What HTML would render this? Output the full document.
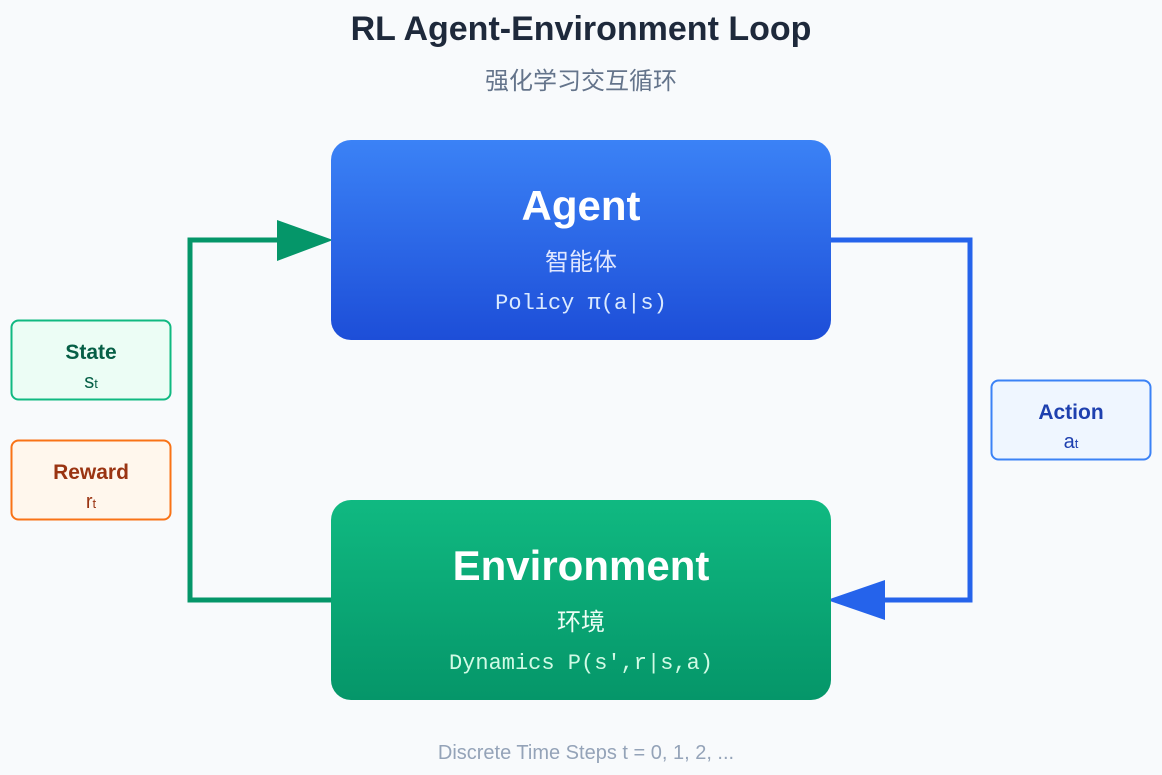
<!DOCTYPE html>
<html><head><meta charset="utf-8"><style>
html,body{margin:0;padding:0;background:#f8fafc;}
svg{display:block}
.s{font-family:"Liberation Sans","Noto Sans CJK SC",sans-serif}
.m{font-family:"Liberation Mono","DejaVu Sans Mono",monospace}
</style></head><body>
<svg width="1162" height="775" viewBox="0 0 1162 775" xmlns="http://www.w3.org/2000/svg">
<defs>
<linearGradient id="gb" x1="0" y1="0" x2="0" y2="1"><stop offset="0" stop-color="#3b82f6"/><stop offset="1" stop-color="#1d4ed8"/></linearGradient>
<linearGradient id="gg" x1="0" y1="0" x2="0" y2="1"><stop offset="0" stop-color="#10b981"/><stop offset="1" stop-color="#059669"/></linearGradient>
</defs>
<rect width="1162" height="775" fill="#f8fafc"/>
<text x="581" y="40" text-anchor="middle" class="s" font-size="34" font-weight="bold" fill="#1e293b">RL Agent-Environment Loop</text>
<text x="581" y="89" text-anchor="middle" class="s" font-size="24" fill="#64748b">强化学习交互循环</text>

<polyline points="331,600 190,600 190,240 285,240" fill="none" stroke="#059669" stroke-width="5"/>
<polygon points="277,220 333,240 277,261" fill="#059669"/>
<polyline points="831,240 970,240 970,600 880,600" fill="none" stroke="#2563eb" stroke-width="5"/>
<polygon points="885,580 827,600 885,620" fill="#2563eb"/>

<rect x="331" y="140" width="500" height="200" rx="20" fill="url(#gb)"/>
<text x="581" y="220" text-anchor="middle" class="s" font-size="42" font-weight="bold" fill="#fff">Agent</text>
<text x="581" y="270" text-anchor="middle" class="s" font-size="24" fill="#e0e7ff">智能体</text>
<text x="581" y="309" text-anchor="middle" class="m" font-size="22" fill="#dbeafe">Policy π(a|s)</text>

<rect x="331" y="500" width="500" height="200" rx="20" fill="url(#gg)"/>
<text x="581" y="580" text-anchor="middle" class="s" font-size="42" font-weight="bold" fill="#fff">Environment</text>
<text x="581" y="630" text-anchor="middle" class="s" font-size="24" fill="#ecfdf5">环境</text>
<text x="581" y="669" text-anchor="middle" class="m" font-size="22" fill="#d1fae5">Dynamics P(s',r|s,a)</text>

<rect x="11.5" y="320.5" width="159" height="79" rx="7" fill="#ecfdf5" stroke="#10b981" stroke-width="2"/>
<text x="91" y="359" text-anchor="middle" class="s" font-size="21" font-weight="bold" fill="#065f46">State</text>
<text x="91" y="388" text-anchor="middle" class="s" font-size="20" fill="#065f46">s<tspan font-size="13">t</tspan></text>

<rect x="11.5" y="440.5" width="159" height="79" rx="7" fill="#fff7ed" stroke="#f97316" stroke-width="2"/>
<text x="91" y="479" text-anchor="middle" class="s" font-size="21" font-weight="bold" fill="#9a3412">Reward</text>
<text x="91" y="508" text-anchor="middle" class="s" font-size="20" fill="#9a3412">r<tspan font-size="13">t</tspan></text>

<rect x="991.5" y="380.5" width="159" height="79" rx="7" fill="#eff6ff" stroke="#3b82f6" stroke-width="2"/>
<text x="1071" y="419" text-anchor="middle" class="s" font-size="21" font-weight="bold" fill="#1e40af">Action</text>
<text x="1071" y="448" text-anchor="middle" class="s" font-size="20" fill="#1e40af">a<tspan font-size="13">t</tspan></text>

<text x="586" y="759" text-anchor="middle" class="s" font-size="20" fill="#94a3b8">Discrete Time Steps t = 0, 1, 2, ...</text>
</svg>
</body></html>
